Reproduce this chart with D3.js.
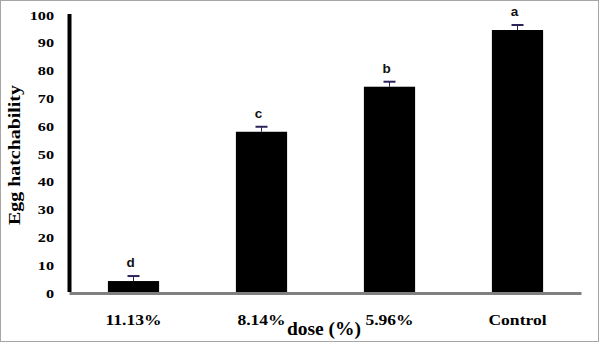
<!DOCTYPE html>
<html>
<head>
<meta charset="utf-8">
<script src="https://cdn.jsdelivr.net/npm/d3@7"></script>
<style>
  body { margin: 0; background: #fff; }
  svg { display: block; }
  .serif { font-family: "Liberation Serif", "Times New Roman", serif; font-weight: bold; fill: #000; }
  .letter { font-family: "Liberation Sans", Arial, sans-serif; font-weight: bold; font-size: 13.5px; fill: #111; }
</style>
</head>
<body>
<div id="chart"></div>
<script>
// values
const doses = ["11.13%", "8.14%", "5.96%", "Control"];
const hatchability = [4.3, 58, 74.2, 94.6];
const errors = [1.8, 1.8, 1.8, 1.8];
const letters = ["d", "c", "b", "a"];
const yTicks = [0, 10, 20, 30, 40, 50, 60, 70, 80, 90, 100];

const width = 600, height = 343;

const svg = d3.select("#chart").append("svg")
  .attr("width", width)
  .attr("height", height);

// outer frame
svg.append("rect")
  .attr("x", 0.5).attr("y", 0.5)
  .attr("width", width - 2).attr("height", height - 2)
  .attr("fill", "#fff")
  .attr("stroke", "#a6a6a6");

const x = d3.scaleBand()
  .domain(doses)
  .range([69.5, 581.5])
  .paddingInner(0.6)
  .paddingOuter(0.3);

const y = d3.scaleLinear()
  .domain([0, 100])
  .range([293, 15]);

const data = doses.map((d, i) => ({
  dose: d, value: hatchability[i], err: errors[i], letter: letters[i],
}));

// bars
svg.selectAll("rect.bar")
  .data(data)
  .enter()
  .append("rect")
  .attr("class", "bar")
  .attr("x", d => x(d.dose))
  .attr("y", d => y(d.value))
  .attr("width", x.bandwidth())
  .attr("height", d => y(0) - y(d.value))
  .attr("fill", "#000");

// error bars (upper only)
const errG = svg.selectAll("g.err")
  .data(data)
  .enter()
  .append("g")
  .attr("class", "err")
  .attr("transform", d => "translate(" + (x(d.dose) + x.bandwidth() / 2) + ",0)");

errG.append("line")
  .attr("x1", 0).attr("x2", 0)
  .attr("y1", d => y(d.value))
  .attr("y2", d => y(d.value + d.err))
  .attr("stroke", "#2e2358")
  .attr("stroke-width", 1);

errG.append("line")
  .attr("x1", -6).attr("x2", 6)
  .attr("y1", d => y(d.value + d.err))
  .attr("y2", d => y(d.value + d.err))
  .attr("stroke", "#2e2358")
  .attr("stroke-width", 2);

// significance letters
svg.selectAll("text.letter")
  .data(data)
  .enter()
  .append("text")
  .attr("class", "letter")
  .attr("x", d => x(d.dose) + x.bandwidth() / 2 - 3)
  .attr("y", d => y(d.value + d.err) - 9)
  .attr("text-anchor", "middle")
  .text(d => d.letter);

// x axis line (grey)
svg.append("line")
  .attr("x1", x.range()[0]).attr("x2", x.range()[1])
  .attr("y1", y(0) + 0.5).attr("y2", y(0) + 0.5)
  .attr("stroke", "#808080")
  .attr("stroke-width", 3);

// y axis line (black)
svg.append("line")
  .attr("x1", 69.5).attr("x2", 69.5)
  .attr("y1", y(100) - 1).attr("y2", y(0) - 1)
  .attr("stroke", "#000")
  .attr("stroke-width", 4);

// y tick labels
svg.selectAll("text.ytick")
  .data(yTicks)
  .enter()
  .append("text")
  .attr("class", "serif ytick")
  .attr("transform", d => "translate(54," + (y(d) + 4.5) + ") scale(1.2,1)")
  .attr("text-anchor", "end")
  .style("font-size", "13.5px")
  .text(d => d);

// x tick labels
svg.selectAll("text.xtick")
  .data(doses)
  .enter()
  .append("text")
  .attr("class", "serif xtick")
  .attr("transform", d => "translate(" + (x(d) + x.bandwidth() / 2) + ",325) scale(1.17,1)")
  .attr("text-anchor", "middle")
  .style("font-size", "15px")
  .text(d => d);

// axis titles
svg.append("text")
  .attr("class", "serif")
  .attr("transform", "translate(20,155) rotate(-90) scale(1.17,1)")
  .attr("text-anchor", "middle")
  .style("font-size", "17px")
  .text("Egg hatchability");

svg.append("text")
  .attr("class", "serif")
  .attr("x", 324)
  .attr("y", 335)
  .attr("text-anchor", "middle")
  .style("font-size", "19.5px")
  .text("dose (%)");
</script>
</body>
</html>
